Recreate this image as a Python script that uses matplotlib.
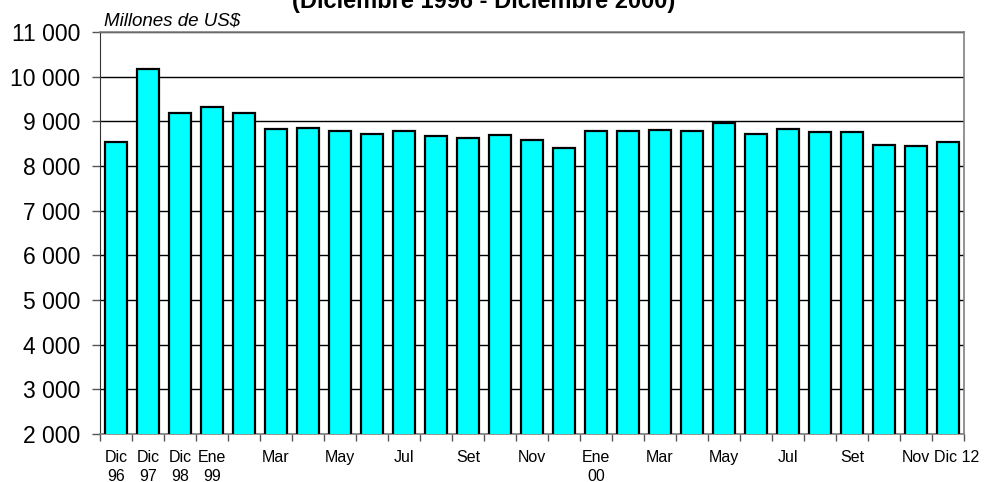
import matplotlib.pyplot as plt
import matplotlib.transforms as mtransforms
import numpy as np

plt.rcParams["font.family"] = ["Liberation Sans", "DejaVu Sans"]

# Reservas internacionales netas, millones de US$
MONTH_LABELS: list[str] = [
    "Dic\n96", "Dic\n97", "Dic\n98", "Ene\n99", "", "Mar", "", "May", "",
    "Jul", "", "Set", "", "Nov", "", "Ene\n00", "", "Mar", "", "May", "",
    "Jul", "", "Set", "", "Nov", "Dic 12",
]

RESERVES: list[float] = [
    8540, 10170, 9190, 9330, 9180, 8830, 8850, 8780, 8715,
    8780, 8665, 8625, 8700, 8590, 8410, 8780, 8785, 8815,
    8785, 8960, 8720, 8830, 8760, 8760, 8475, 8450, 8535,
]

Y_TICKS: list[int] = list(range(2000, 11001, 1000))


def fmt_thousands(v: int) -> str:
    return f"{v:,}".replace(",", " ")


def plot_reserves(save_path: str = "out.png") -> None:
    fig = plt.figure(figsize=(9.84, 4.82), dpi=100)
    ax = fig.add_axes([100 / 984, 48 / 482, 864 / 984, 402 / 482])

    x = np.arange(len(RESERVES))
    ax.bar(x, RESERVES, width=0.66, color="#00FFFF", edgecolor="black",
           linewidth=1.6, zorder=3)

    ax.set_xlim(-0.5, len(RESERVES) - 0.5)
    ax.set_ylim(2000, 11000)

    ax.set_yticks(Y_TICKS)
    ax.set_yticklabels([fmt_thousands(v) for v in Y_TICKS], fontsize=16.5)
    ax.yaxis.grid(True, color="black", linewidth=1.0, zorder=0)
    ax.tick_params(axis="y", length=5.8, width=1, color="#555555", pad=8.5)

    ax.set_xticks(x)
    ax.set_xticklabels(MONTH_LABELS, fontsize=11.5, linespacing=1.3)
    ax.tick_params(axis="x", which="major", length=0, pad=11.5)
    ax.set_xticks(np.arange(len(RESERVES) + 1) - 0.5, minor=True)
    ax.tick_params(axis="x", which="minor", length=5, width=1, color="#555555")

    # the last label sits a little to the right in the original
    last = ax.get_xticklabels()[-1]
    last.set_transform(last.get_transform() + mtransforms.ScaledTranslation(
        9 / 100, 0, fig.dpi_scale_trans))

    for side in ["top", "right", "bottom"]:
        ax.spines[side].set_color("#808080")
        ax.spines[side].set_linewidth(1.2)
    ax.spines["left"].set_color("#333333")

    ax.text(0.005, 1.006, "Millones de US$", transform=ax.transAxes,
            fontsize=13.5, style="italic", ha="left", va="bottom")

    fig.text(484 / 984, 1 - 8 / 482, "(Diciembre 1996 - Diciembre 2000)",
             fontsize=17, fontweight="bold", ha="center", va="baseline")

    fig.savefig(save_path, dpi=100)


def main() -> None:
    plot_reserves()


if __name__ == "__main__":
    main()
